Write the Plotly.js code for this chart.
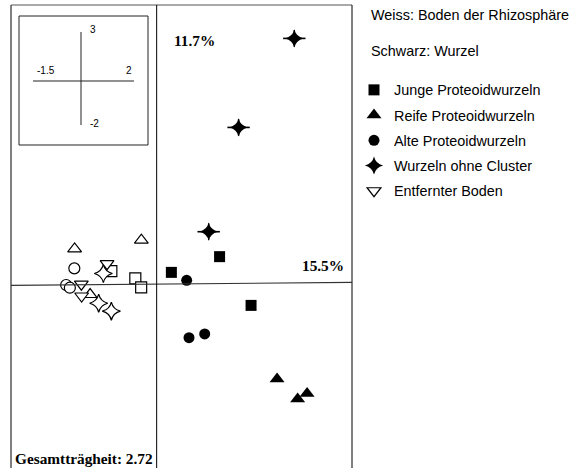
<!DOCTYPE html>
<html>
<head>
<meta charset="utf-8">
<script src="https://cdn.plot.ly/plotly-3.0.1.min.js"></script>
<style>html,body{margin:0;padding:0;background:#fff;overflow:hidden}#chart{width:584px;height:468px}</style>
</head>
<body>
<div id="chart"></div>
<script>
// ---- data (CA ordination scores) ----
const legendNames = ['Junge Proteoidwurzeln', 'Reife Proteoidwurzeln', 'Alte Proteoidwurzeln', 'Wurzeln ohne Cluster', 'Entfernter Boden'];
// Schwarz: Wurzel (filled)
const jungeWurzelX = [0.146, 0.641, 0.964];
const jungeWurzelY = [0.126, 0.295, -0.229];
const reifeWurzelX = [1.231, 1.442, 1.539];
const reifeWurzelY = [-1.019, -1.234, -1.176];
const alteWurzelX = [0.303, 0.327, 0.488];
const alteWurzelY = [0.040, -0.576, -0.536];
const ohneWurzelX = [1.408, 0.836, 0.529];
const ohneWurzelY = [2.641, 1.684, 0.563];
// Weiss: Boden der Rhizosphäre (open)
const jungeBodenX = [-0.470, -0.224, -0.164];
const jungeBodenY = [0.139, 0.061, -0.035];
const reifeBodenX = [-0.847, -0.162, -0.688];
const reifeBodenY = [0.378, 0.472, -0.112];
const alteBodenX = [-0.850, -0.934, -0.896];
const alteBodenY = [0.169, -0.010, -0.039];
const ohneBodenX = [-0.552, -0.600, -0.470];
const ohneBodenY = [0.114, -0.206, -0.291];
// Entfernter Boden (open, down triangles)
const entfernterX = [-0.514, -0.778, -0.775];
const entfernterY = [0.219, -0.001, -0.128];

const axisX = [-1.5, 2];
const axisY = [-2, 3];
const axis1Label = '15.5%';
const axis2Label = '11.7%';
const inertiaLabel = 'Gesamtträgheit: 2.72';
const headerLines = ['Weiss: Boden der Rhizosphäre', 'Schwarz: Wurzel'];

// ---- layout helpers (pixel -> paper) ----
const L = 11, R = 352, T = 5, B = 468;
const px = v => (v - L) / (R - L);
const py = v => (B - v) / (B - T);
const yBottom = 3 - (B - T) / 93.03;

function tr(x, y, name, symbol, filled, size, show, group, rank) {
  return {
    type: 'scatter', mode: 'markers', x: x, y: y, name: name,
    showlegend: show, legendgroup: group, legendrank: rank,
    marker: {
      symbol: symbol, size: size,
      color: filled ? '#000' : '#fff',
      line: {color: '#000', width: filled ? 0 : 1.2}
    },
    hoverinfo: 'skip'
  };
}
function arms(x, y, symbol, size, width, group) {
  return {
    type: 'scatter', mode: 'markers', x: x, y: y, showlegend: false, legendgroup: group,
    marker: {symbol: symbol, size: size, color: '#000', line: {color: '#000', width: width}},
    hoverinfo: 'skip'
  };
}

const traces = [
  tr(jungeBodenX, jungeBodenY, 'Boden junge', 'square', false, 11, false, 'a', 10),
  tr(reifeBodenX, reifeBodenY, 'Boden reife', 'triangle-up', false, 12, false, 'b', 11),
  tr(alteBodenX, alteBodenY, 'Boden alte', 'circle', false, 11, false, 'c', 12),
  tr(ohneBodenX, ohneBodenY, 'Boden ohne', 'star-diamond', false, 13, false, 'd', 13),
  tr(entfernterX, entfernterY, legendNames[4], 'triangle-down', false, 12, true, 'e', 5),
  tr(jungeWurzelX, jungeWurzelY, legendNames[0], 'square', true, 11, true, 'a', 1),
  tr(reifeWurzelX, reifeWurzelY, legendNames[1], 'triangle-up', true, 13, true, 'b', 2),
  tr(alteWurzelX, alteWurzelY, legendNames[2], 'circle', true, 11, true, 'c', 3),
  tr(ohneWurzelX, ohneWurzelY, legendNames[3], 'star-diamond', true, 13, true, 'd', 4),
  arms(ohneWurzelX, ohneWurzelY, 'line-ew', 16, 1.6, 'd'),
  arms(ohneWurzelX, ohneWurzelY, 'line-ns', 12, 1.4, 'd')
];

const black = '#000';
const shapes = [
  // frame (left, top, right)
  {type: 'line', xref: 'paper', yref: 'paper', x0: 0, x1: 0, y0: 0, y1: 1, line: {color: black, width: 1}},
  {type: 'line', xref: 'paper', yref: 'paper', x0: 0, x1: 1, y0: 1, y1: 1, line: {color: '#555', width: 1}},
  {type: 'line', xref: 'paper', yref: 'paper', x0: 1, x1: 1, y0: 0, y1: 1, line: {color: black, width: 1}},
  // axes through origin
  {type: 'line', xref: 'x', yref: 'y', x0: axisX[0], x1: axisX[1], y0: -0.014, y1: 0.018, line: {color: '#333', width: 1.2}},
  {type: 'line', xref: 'x', yref: 'paper', x0: -0.005, x1: -0.005, y0: 0, y1: 1, line: {color: black, width: 1}},
  // inset frame
  {type: 'rect', xref: 'paper', yref: 'paper', x0: px(19), x1: px(148), y0: py(145), y1: py(16), line: {color: '#222', width: 1}, fillcolor: '#fff'},
  {type: 'line', xref: 'paper', yref: 'paper', x0: px(33), x1: px(134), y0: py(81), y1: py(81), line: {color: '#222', width: 1}},
  {type: 'line', xref: 'paper', yref: 'paper', x0: px(81), x1: px(81), y0: py(32), y1: py(125), line: {color: '#222', width: 1}}
];

const serifBold = {family: '"Liberation Serif", "Times New Roman", serif', size: 15.3, color: black, weight: 'bold'};
const sans = {family: '"Liberation Sans", Arial, sans-serif', size: 14.4, color: black};
const small = {family: '"Liberation Sans", Arial, sans-serif', size: 10, color: black};
function ann(text, x, y, font, xanchor) {
  return {text: text, xref: 'paper', yref: 'paper', x: px(x), y: py(y), xanchor: xanchor || 'left', yanchor: 'middle', showarrow: false, font: font};
}
const annotations = [
  ann('<b>' + axis2Label + '</b>', 172, 40, serifBold),
  ann('<b>' + axis1Label + '</b>', 346, 265, serifBold, 'right'),
  ann('<b>' + inertiaLabel + '</b>', 13, 458, serifBold),
  ann(headerLines[0], 369, 15, sans),
  ann(headerLines[1], 369, 51, sans),
  ann(String(axisY[1]), 88, 30, small),
  ann(String(axisY[0]), 88, 124, small),
  ann(String(axisX[0]), 35, 71, small),
  ann(String(axisX[1]), 124, 71, small)
];

const layout = {
  width: 584, height: 468,
  margin: {l: L, r: 584 - R, t: T, b: 0, pad: 0},
  paper_bgcolor: '#fff', plot_bgcolor: '#fff',
  xaxis: {range: axisX, visible: false, fixedrange: true},
  yaxis: {range: [yBottom, axisY[1]], visible: false, fixedrange: true},
  showlegend: true,
  legend: {
    x: px(354), y: py(74), xanchor: 'left', yanchor: 'top',
    font: sans, bgcolor: 'rgba(0,0,0,0)', borderwidth: 0,
    traceorder: 'grouped', tracegroupgap: 3.5, itemclick: false, itemdoubleclick: false
  },
  shapes: shapes,
  annotations: annotations
};

Plotly.newPlot('chart', traces, layout, {staticPlot: true, displayModeBar: false});
</script>
</body>
</html>
